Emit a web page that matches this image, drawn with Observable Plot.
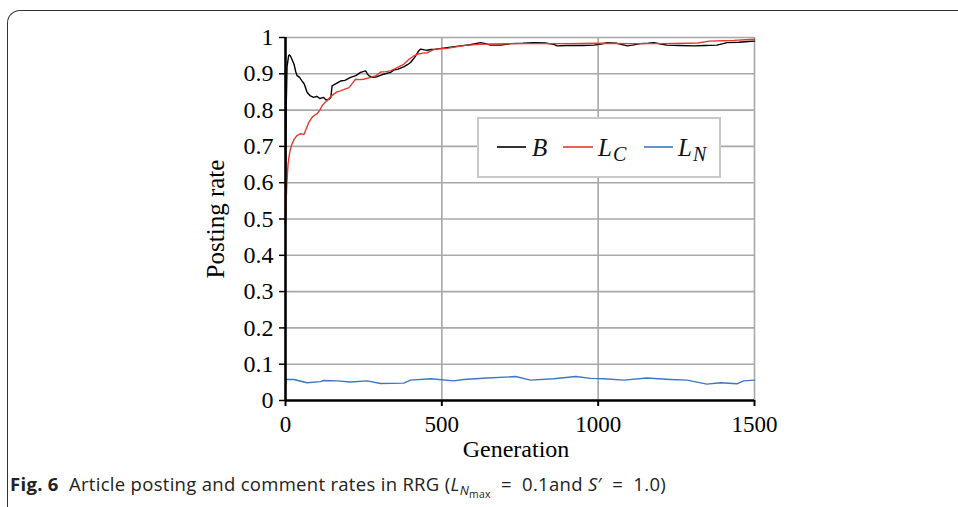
<!DOCTYPE html>
<html>
<head>
<meta charset="utf-8">
<script src="https://cdn.jsdelivr.net/npm/d3@7"></script>
<script src="https://cdn.jsdelivr.net/npm/@observablehq/plot@0.6"></script>
<style>
  html, body { margin: 0; padding: 0; background: #fff; }
  #wrap { position: relative; width: 958px; height: 507px; overflow: hidden; background: #fff; }
  #frame { position: absolute; left: 7px; top: 10px; width: 980px; height: 520px;
           border-top: 1.3px solid #333; border-left: 1.3px solid #333; border-top-left-radius: 13px; }
  #chart { position: absolute; left: 0; top: 0; }
  #legend { position: absolute; left: 477px; top: 117px; }
  #caption { position: absolute; left: 10px; top: 471px; font-family: "Open Sans", "Noto Sans", sans-serif;
             font-size: 18.5px; letter-spacing: 0.3px; color: #222; white-space: nowrap; }
  #caption b { font-weight: 700; }
  #caption sub { font-size: 70%; vertical-align: -0.3em; line-height: 0; }
  #caption sub sub { font-size: 80%; vertical-align: -0.25em; }
</style>
</head>
<body>
<div id="wrap">
  <div id="frame"></div>
  <div id="chart"></div>
  <svg id="legend" width="245" height="62"></svg>
  <div id="caption"><b>Fig. 6</b>&nbsp; Article posting and comment rates in RRG (<i>L</i><sub><i>N</i><sub>max</sub></sub> &nbsp;=&nbsp; 0.1and <i>S</i>′ &nbsp;=&nbsp; 1.0)</div>
</div>
<script>
// ---- data ----
const seriesNames = ["B", "L_C", "L_N"];
const seriesColors = ["#000000", "#e63a2e", "#3b78c0"];

const genB = [0,2,5,10,13,18,27,33,37,45,53,60,69,78,90,100,110,122,130,139,145,149,160,176,190,208,225,240,256,262,266,280,293,310,336,346,360,378,390,400,410,416,425,432,445,453,465,480,500,517,540,560,590,624,640,656,688,720,760,794,830,858,869,900,950,986,1010,1029,1060,1093,1110,1135,1160,1178,1200,1220,1260,1306,1340,1380,1400,1412,1450,1480,1500];
const valB = [0.49,0.8,0.92,0.95,0.952,0.945,0.927,0.905,0.895,0.89,0.88,0.872,0.849,0.84,0.835,0.838,0.832,0.835,0.828,0.83,0.835,0.867,0.872,0.88,0.882,0.89,0.895,0.904,0.908,0.9,0.895,0.89,0.892,0.898,0.904,0.91,0.913,0.919,0.925,0.931,0.942,0.949,0.962,0.968,0.966,0.965,0.967,0.968,0.97,0.972,0.975,0.977,0.98,0.986,0.983,0.979,0.979,0.983,0.984,0.986,0.985,0.981,0.977,0.978,0.978,0.979,0.982,0.986,0.984,0.977,0.979,0.983,0.984,0.986,0.982,0.979,0.978,0.977,0.978,0.979,0.983,0.986,0.987,0.989,0.99];

const genLC = [0,2,5,8,11,15,21,28,37,48,59,67,75,85,93,101,110,117,125,133,142,154,165,176,190,203,215,224,237,250,272,290,304,320,336,357,378,395,410,421,440,453,470,480,500,517,550,581,624,660,720,800,900,1000,1100,1200,1280,1320,1354,1400,1434,1470,1500];
const valLC = [0.488,0.55,0.607,0.65,0.67,0.69,0.707,0.72,0.73,0.735,0.733,0.75,0.767,0.78,0.786,0.79,0.8,0.812,0.82,0.826,0.835,0.844,0.85,0.853,0.858,0.862,0.875,0.885,0.884,0.885,0.89,0.895,0.905,0.906,0.908,0.917,0.926,0.94,0.949,0.954,0.957,0.958,0.965,0.968,0.969,0.97,0.975,0.979,0.981,0.982,0.983,0.983,0.983,0.984,0.983,0.983,0.984,0.985,0.99,0.991,0.992,0.994,0.995];

const genLN = [0,3,27,69,112,122,165,208,261,304,378,400,464,538,570,645,736,784,858,928,976,1018,1082,1156,1231,1284,1348,1391,1444,1465,1500];
const valLN = [0.046,0.058,0.058,0.049,0.052,0.055,0.054,0.051,0.054,0.047,0.048,0.056,0.06,0.054,0.058,0.062,0.066,0.056,0.06,0.066,0.061,0.06,0.056,0.062,0.058,0.056,0.045,0.049,0.046,0.054,0.056];

const xTicks = [0, 500, 1000, 1500];
const yTicks = [0, 0.1, 0.2, 0.3, 0.4, 0.5, 0.6, 0.7, 0.8, 0.9, 1];
const xTitle = "Generation";
const yTitle = "Posting rate";

// ---- build table ----
const rows = [];
[[genB, valB], [genLC, valLC], [genLN, valLN]].forEach(([g, v], i) => {
  g.forEach((gen, j) => rows.push({ series: seriesNames[i], gen, value: v[j] }));
});

const gridColor = "#a8a8a8";

const chart = Plot.plot({
  width: 958,
  height: 470,
  marginLeft: 285,
  marginRight: 204,
  marginTop: 37,
  marginBottom: 70,
  style: { fontFamily: "'Liberation Serif', 'Times New Roman', serif", fontSize: "23px", background: "transparent", color: "#000" },
  x: { domain: [0, 1500] },
  y: { domain: [0, 1] },
  color: { domain: seriesNames, range: seriesColors },
  marks: [
    Plot.gridY(yTicks.filter(d => d > 0), { stroke: gridColor, strokeOpacity: 1, strokeWidth: 1.6 }),
    Plot.gridX(xTicks.filter(d => d > 0), { stroke: gridColor, strokeOpacity: 1, strokeWidth: 1.6 }),
    Plot.line(rows, { x: "gen", y: "value", z: "series", stroke: "series", strokeWidth: 1.4 }),
    Plot.axisY(yTicks, { tickSize: 6, tickPadding: 6, strokeWidth: 1.5, label: null, fontSize: 24,
      tickFormat: d => String(+d.toFixed(1)) }),
    Plot.axisX(xTicks, { tickSize: 6, tickPadding: 9, strokeWidth: 2, label: null, fontSize: 23,
      tickFormat: d => String(d) }),
    Plot.ruleX([0], { stroke: "#000", strokeWidth: 2.6 }),
    Plot.ruleY([0], { stroke: "#000", strokeWidth: 2.6 }),
    Plot.text([yTitle], { frameAnchor: "left", textAnchor: "middle", dx: -70, rotate: -90, fontSize: 25, fill: "#000" }),
    Plot.text([xTitle], { frameAnchor: "bottom", dx: -4, dy: 56, fontSize: 24, fill: "#000" })
  ]
});
document.getElementById("chart").appendChild(chart);

// ---- legend ----
const leg = d3.select("#legend");
leg.append("rect").attr("x", 1).attr("y", 1).attr("width", 242).attr("height", 59)
  .attr("fill", "#fff").attr("stroke", "#c8c8c8").attr("stroke-width", 2);
const items = [
  { x1: 20, x2: 49, tx: 55, main: "B", sub: "" },
  { x1: 86, x2: 116, tx: 121, main: "L", sub: "C" },
  { x1: 167, x2: 196, tx: 201, main: "L", sub: "N" }
];
items.forEach((it, i) => {
  leg.append("line").attr("x1", it.x1).attr("x2", it.x2).attr("y1", 30).attr("y2", 30)
    .attr("stroke", seriesColors[i]).attr("stroke-width", 1.6);
  const t = leg.append("text").attr("x", it.tx).attr("y", 39)
    .attr("font-family", "'Liberation Serif', serif").attr("font-style", "italic")
    .attr("font-size", 25).attr("fill", "#111");
  t.append("tspan").text(it.main);
  if (it.sub) t.append("tspan").attr("dy", 5).attr("dx", 1).attr("font-size", 20).text(it.sub);
});
</script>
</body>
</html>
